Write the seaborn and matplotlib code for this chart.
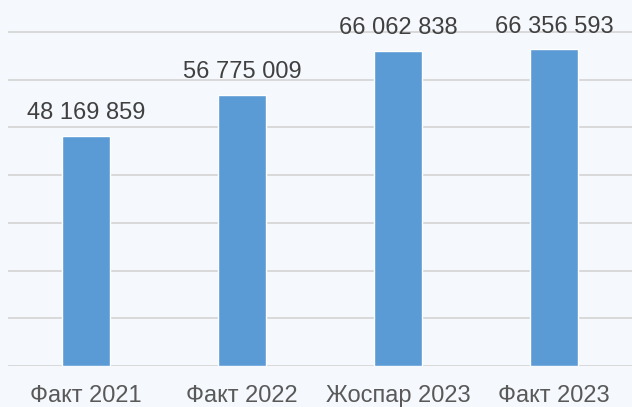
import matplotlib
matplotlib.use("Agg")
import matplotlib.pyplot as plt
import seaborn as sns
import pandas as pd

categories = ["Факт 2021", "Факт 2022", "Жоспар 2023", "Факт 2023"]
values = [48169859, 56775009, 66062838, 66356593]
value_labels = ["48 169 859", "56 775 009", "66 062 838", "66 356 593"]

sns.set_theme(style="white")
plt.rcParams["font.family"] = ["Liberation Sans", "DejaVu Sans"]

bg = "#f5f8fc"
fig = plt.figure(figsize=(6.32, 4.07), dpi=100, facecolor=bg)
ax = fig.add_axes([8 / 632, 41 / 407, 624 / 632, 366 / 407])
ax.set_facecolor(bg)

df = pd.DataFrame({"cat": categories, "val": values})
sns.barplot(data=df, x="cat", y="val", color="#5b9bd5", saturation=1,
            width=0.31, ax=ax, zorder=3)

ax.set_ylim(0, 76.7e6)
ax.set_xlim(-0.5, 3.5)
ax.set_yticks([i * 10e6 for i in range(8)])
ax.yaxis.grid(True, color="#d9d9d9", linewidth=1.4, zorder=0)
ax.set_axisbelow(True)
ax.tick_params(axis="y", left=False, labelleft=False)
ax.tick_params(axis="x", bottom=False, pad=7.5, labelsize=17, labelcolor="#595959")
for s in ax.spines.values():
    s.set_visible(False)
ax.set_xlabel("")
ax.set_ylabel("")

for i, (v, lab) in enumerate(zip(values, value_labels)):
    ax.annotate(lab, (i, v), xytext=(0, 12), textcoords="offset points",
                ha="center", va="baseline", fontsize=17, color="#404040",
                annotation_clip=False)

fig.savefig("out.png", dpi=100, facecolor=bg)
